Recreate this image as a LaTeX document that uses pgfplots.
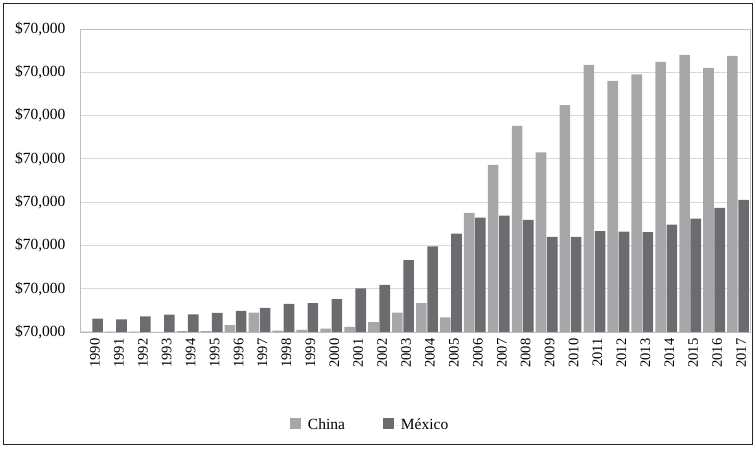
\documentclass[border=0pt]{standalone}
\usepackage{fontspec}
\setmainfont{Liberation Serif}
\usepackage{pgfplots}
\pgfplotsset{compat=1.18}
\definecolor{chinaC}{HTML}{A7A7AA}
\definecolor{mexC}{HTML}{6B6C70}
\definecolor{gridC}{HTML}{D9D9D9}
\begin{document}
\begin{tikzpicture}[x=1pt,y=1pt]
\path[use as bounding box] (0,0) rectangle (756,448);
\draw[line width=1.2pt, black!85] (3.5,3.5) rectangle (752.5,444.5);
\begin{axis}[
  at={(80pt,116pt)}, anchor=south west,
  scale only axis, width=670pt, height=303pt,
  ybar, bar width=10.6pt,
  xmin=-0.5, xmax=27.5, ymin=0, ymax=7,
  axis line style={draw=black!25, line width=0.8pt},
  ymajorgrids, grid style={draw=gridC, line width=0.9pt},
  major tick length=0,
  ytick={0,1,2,3,4,5,6,7},
  yticklabels={{\$70,000},{\$70,000},{\$70,000},{\$70,000},{\$70,000},{\$70,000},{\$70,000},{\$70,000}},
  xtick={0,1,...,27},
  xticklabels={1990,1991,1992,1993,1994,1995,1996,1997,1998,1999,2000,2001,2002,2003,2004,2005,2006,2007,2008,2009,2010,2011,2012,2013,2014,2015,2016,2017},
  yticklabel style={font=\fontsize{15.5}{17}\selectfont, xshift=-11pt},
  xticklabel style={font=\fontsize{14.5}{16}\selectfont, xshift=3pt, yshift=-3pt, rotate=90, anchor=east},
  /pgf/number format/assume math mode=true,
  legend style={at={(0.433,-0.307)}, anchor=center, draw=none, legend columns=2,
    font=\fontsize{15.5}{17}\selectfont,
    /tikz/every even column/.append style={column sep=36pt}},
  legend image code/.code={\fill[#1] (0pt,-4pt) rectangle (11pt,7pt); \path (0pt,0pt) -- (16pt,0pt);},
]
\addplot[fill=chinaC, draw=none, bar shift=-5.6pt] coordinates {
(0,0.01) (1,0.01) (2,0.01) (3,0.005) (4,0.02) (5,0.02) (6,0.16) (7,0.45) (8,0.03) (9,0.05)
(10,0.08) (11,0.12) (12,0.23) (13,0.45) (14,0.67) (15,0.34) (16,2.75) (17,3.86) (18,4.76) (19,4.15)
(20,5.24) (21,6.17) (22,5.80) (23,5.95) (24,6.24) (25,6.40) (26,6.10) (27,6.38)};
\addlegendentry{China}
\addplot[fill=mexC, draw=none, bar shift=5.6pt] coordinates {
(0,0.31) (1,0.29) (2,0.36) (3,0.40) (4,0.41) (5,0.44) (6,0.49) (7,0.56) (8,0.65) (9,0.67)
(10,0.76) (11,1.01) (12,1.09) (13,1.66) (14,1.98) (15,2.27) (16,2.64) (17,2.69) (18,2.59) (19,2.20)
(20,2.20) (21,2.33) (22,2.32) (23,2.31) (24,2.48) (25,2.62) (26,2.87) (27,3.05)};
\addlegendentry{México}
\end{axis}
\end{tikzpicture}
\end{document}
